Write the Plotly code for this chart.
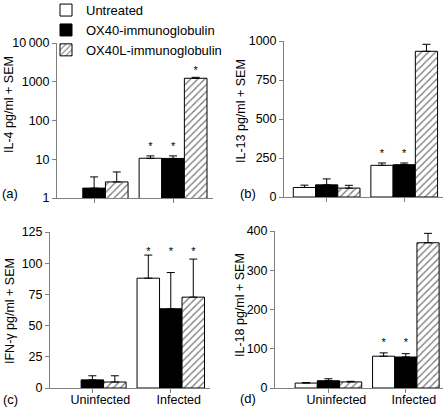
import plotly.graph_objects as go

categories = ["Uninfected", "Infected"]
series_names = ["Untreated", "OX40-immunoglobulin", "OX40L-immunoglobulin"]

# (a) IL-4 (log scale)
il4_untreated = [None, 10.6]
il4_untreated_sem = [None, 1.6]
il4_ox40 = [1.8, 10.5]
il4_ox40_sem = [1.7, 1.7]
il4_ox40l = [2.6, 1230]
il4_ox40l_sem = [2.1, 70]
il4_stars = [[None, 20.5], [None, 20.5], [None, 1850]]

# (b) IL-13
il13_untreated = [61, 203]
il13_untreated_sem = [15, 15]
il13_ox40 = [78, 207]
il13_ox40_sem = [38, 11]
il13_ox40l = [57, 934]
il13_ox40l_sem = [18, 45]
il13_stars = [[None, 272], [None, 272], [None, 1040]]

# (c) IFN-gamma
ifn_untreated = [None, 88]
ifn_untreated_sem = [None, 18.5]
ifn_ox40 = [6.5, 63.5]
ifn_ox40_sem = [3.3, 29]
ifn_ox40l = [4.8, 72.8]
ifn_ox40l_sem = [5.0, 30.5]
ifn_stars = [[None, 109], [None, 109], [None, 109]]

# (d) IL-18
il18_untreated = [12.5, 81]
il18_untreated_sem = [1.5, 8.5]
il18_ox40 = [18.5, 79]
il18_ox40_sem = [5, 8.5]
il18_ox40l = [15.5, 370]
il18_ox40l_sem = [1.5, 24]
il18_stars = [[None, 113], [None, 113], [None, 415]]

yaxis_titles = ["IL-4 pg/ml + SEM", "IL-13 pg/ml + SEM", "IFN-\u03b3 pg/ml + SEM", "IL-18 pg/ml + SEM"]
panel_labels = ["(a)", "(b)", "(c)", "(d)"]
il4_tickvals = [1, 10, 100, 1000, 10000]
il4_ticktext = ["1", "10", "100", "1000", "10\u2009000"]

W, H = 446, 408
FONT = "Liberation Sans, Arial, sans-serif"
AXC = "#808080"

def px(x):
    return x / W

def py(y):
    return 1 - y / H

panels = [
    dict(vals=[il4_untreated, il4_ox40, il4_ox40l],
         sems=[il4_untreated_sem, il4_ox40_sem, il4_ox40l_sem], stars=il4_stars,
         xd=(57, 213), yd=(43, 198), xr=(-0.47, 1.506), log=True, yr=(0, 4),
         title_xy=(9, 105), label_xy=(10, 193), xlabels=False),
    dict(vals=[il13_untreated, il13_ox40, il13_ox40l],
         sems=[il13_untreated_sem, il13_ox40_sem, il13_ox40l_sem], stars=il13_stars,
         xd=(284, 443), yd=(41, 197), xr=(-0.55, 1.50), log=False, yr=(0, 1000),
         dtick=250, title_xy=(241, 111), label_xy=(248, 193), xlabels=False),
    dict(vals=[ifn_untreated, ifn_ox40, ifn_ox40l],
         sems=[ifn_untreated_sem, ifn_ox40_sem, ifn_ox40l_sem], stars=ifn_stars,
         xd=(50, 210), yd=(232, 388), xr=(-0.54, 1.50), log=False, yr=(0, 125),
         dtick=25, title_xy=(10, 311), label_xy=(10, 399), xlabels=True),
    dict(vals=[il18_untreated, il18_ox40, il18_ox40l],
         sems=[il18_untreated_sem, il18_ox40_sem, il18_ox40l_sem], stars=il18_stars,
         xd=(275, 443), yd=(231, 388), xr=(-0.69, 1.48), log=False, yr=(0, 400),
         dtick=100, title_xy=(240, 305), label_xy=(248, 398), xlabels=True),
]

fills = ["white", "black", "white"]
patterns = ["", "", "/"]

fig = go.Figure()
annotations = []
layout_axes = {}

for i, p in enumerate(panels):
    n = "" if i == 0 else str(i + 1)
    xa, ya = "x" + n, "y" + n
    for s in range(3):
        fig.add_trace(go.Bar(
            x=categories, y=p["vals"][s], name=series_names[s],
            xaxis=xa, yaxis=ya, offsetgroup=str(s), legendgroup=str(s),
            showlegend=(i == 0),
            marker=dict(color=fills[s], line=dict(color="black", width=1),
                        pattern=dict(shape=patterns[s], fgcolor="black", bgcolor="white",
                                     size=5, solidity=0.28)),
            error_y=dict(type="data", array=p["sems"][s],
                         arrayminus=[0] * len(categories), symmetric=False,
                         color="black", thickness=1, width=4),
        ))
    for s in range(3):
        fig.add_trace(go.Scatter(
            x=categories, y=p["stars"][s], mode="text", text=["*"] * len(categories),
            textposition="middle center", textfont=dict(family=FONT, size=11, color="black"),
            xaxis=xa, yaxis=ya, offsetgroup=str(s), showlegend=False, hoverinfo="skip",
        ))
    xaxis = dict(domain=[px(p["xd"][0]), px(p["xd"][1])], anchor=ya, type="category",
                 range=list(p["xr"]), showline=True, linecolor=AXC, linewidth=1,
                 ticks="outside", ticklen=4, tickcolor=AXC, showgrid=False, zeroline=False,
                 showticklabels=p["xlabels"], ticklabelshift=8, ticklabelstandoff=-4,
                 automargin=False,
                 tickfont=dict(family=FONT, size=12.5, color="black"))
    yaxis = dict(domain=[py(p["yd"][1]), py(p["yd"][0])], anchor=xa,
                 showline=True, linecolor=AXC, linewidth=1, ticks="outside", ticklen=4,
                 tickcolor=AXC, showgrid=False, zeroline=False, automargin=False,
                 tickfont=dict(family=FONT, size=12.5, color="black"))
    if p["log"]:
        yaxis.update(type="log", range=list(p["yr"]), tickvals=il4_tickvals, ticktext=il4_ticktext)
    else:
        yaxis.update(range=list(p["yr"]), dtick=p["dtick"], tick0=0)
    layout_axes["xaxis" + n] = xaxis
    layout_axes["yaxis" + n] = yaxis
    annotations.append(dict(text=yaxis_titles[i], x=px(p["title_xy"][0]), y=py(p["title_xy"][1]),
                            xref="paper", yref="paper", showarrow=False, textangle=-90,
                            xanchor="center", yanchor="middle",
                            font=dict(family=FONT, size=12.5, color="black")))
    annotations.append(dict(text=panel_labels[i], x=px(p["label_xy"][0]), y=py(p["label_xy"][1]),
                            xref="paper", yref="paper", showarrow=False,
                            xanchor="center", yanchor="middle",
                            font=dict(family=FONT, size=13, color="black")))

fig.update_layout(
    width=W, height=H, margin=dict(l=0, r=0, t=0, b=0, autoexpand=False),
    paper_bgcolor="white", plot_bgcolor="white",
    barmode="group", bargap=0.14, bargroupgap=0,
    scattermode="group", scattergap=0.14,
    showlegend=True,
    legend=dict(x=px(46), y=1.012, xanchor="left", yanchor="top",
                font=dict(family=FONT, size=13, color="black"),
                bgcolor="rgba(0,0,0,0)", traceorder="normal"),
    annotations=annotations,
    **layout_axes,
)

fig.write_html("out.html", config={"displayModeBar": False},
               post_script="document.body.style.margin='0';document.body.style.padding='0';"
                           "document.body.style.overflow='hidden';")
